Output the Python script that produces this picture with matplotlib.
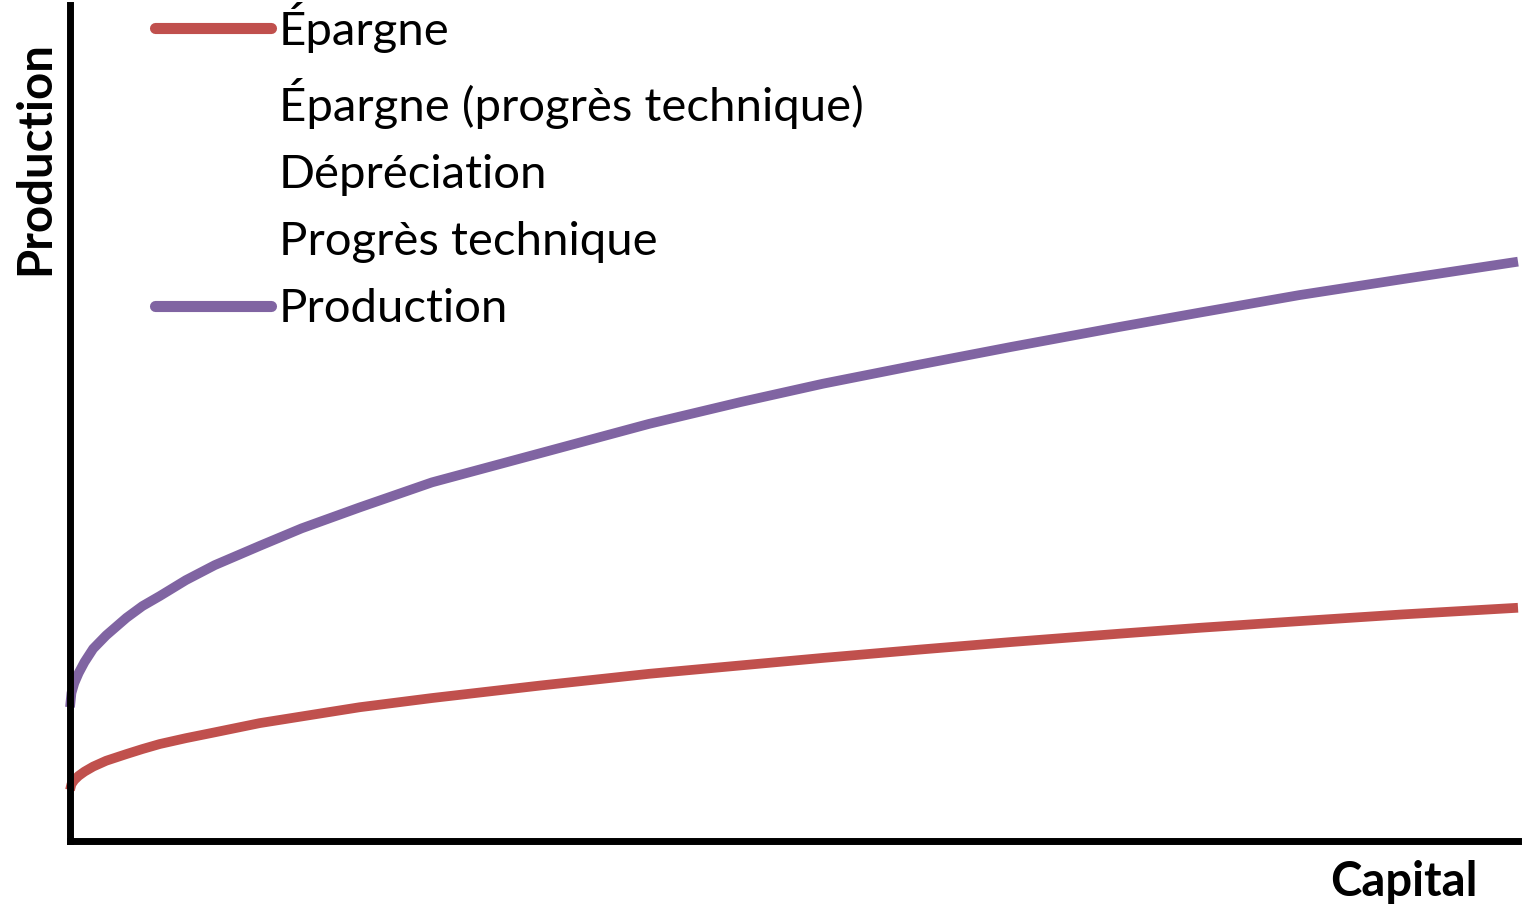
import matplotlib.pyplot as plt

# valeurs (capital 0-100, production 0-100)
capital = [0, 0.1, 0.3, 0.6, 1, 1.6, 2.5, 3.9, 5, 6.2, 8, 10, 13.1, 16, 20, 25, 32.5,
           40, 46.3, 52, 58.7, 65, 72.5, 78, 84.9, 92, 100]
production = [16.0, 17.7, 18.9, 20.1, 21.4, 23.0, 24.6, 26.7, 28.1, 29.3, 31.2, 33.0, 35.3, 37.4,
              39.9, 42.9, 46.4, 49.9, 52.5, 54.7, 57.0, 59.1, 61.5, 63.2, 65.3, 67.2, 69.3]
epargne = [6.1, 6.8, 7.3, 7.8, 8.3, 8.9, 9.6, 10.4, 11.0, 11.6, 12.3, 13.0, 14.1, 14.9,
           16.0, 17.1, 18.6, 20.0, 21.0, 21.9, 22.9, 23.8, 24.8, 25.5, 26.3, 27.1, 27.9]

labels = ["Épargne", "Épargne (progrès technique)", "Dépréciation", "Progrès technique", "Production"]
colors = ["#C0504D", "none", "none", "none", "#8064A2"]

plt.rcParams['font.family'] = ['Lato', 'DejaVu Sans']

fig = plt.figure(figsize=(15.24, 9.06), dpi=100)
ax = fig.add_axes([70 / 1524, 65 / 906, 1448 / 1524, 836 / 906])

ax.plot(capital, epargne, color=colors[0], lw=7, label=labels[0], clip_on=False, solid_capstyle='butt')
ax.plot([], [], color=colors[1], lw=7, label=labels[1])
ax.plot([], [], color=colors[2], lw=7, label=labels[2])
ax.plot([], [], color=colors[3], lw=7, label=labels[3])
ax.plot(capital, production, color=colors[4], lw=7, label=labels[4], clip_on=False, solid_capstyle='butt')

ax.set_xlim(0, 100)
ax.set_ylim(0, 100)
ax.set_xticks([])
ax.set_yticks([])
for s in ['top', 'right']:
    ax.spines[s].set_visible(False)
for s in ['left', 'bottom']:
    ax.spines[s].set_linewidth(5)
    ax.spines[s].set_color('black')

leg = ax.legend(loc='upper left', bbox_to_anchor=(155 / 1524, 1 - 2 / 906), bbox_transform=fig.transFigure,
                frameon=False, fontsize=34, handlelength=2.45, handletextpad=0.17, labelspacing=0.53,
                borderpad=0, borderaxespad=0)
for h in leg.get_lines():
    h.set_solid_capstyle('round')
    h.set_linewidth(8)

fig.text(35 / 1524, 1 - 158 / 906, "Production", rotation=90, ha='center', va='center',
         fontsize=34, fontweight='bold')
fig.text(1404 / 1524, 1 - 882 / 906, "Capital", ha='center', va='center',
         fontsize=34, fontweight='bold')

fig.savefig("out.png", dpi=100)
